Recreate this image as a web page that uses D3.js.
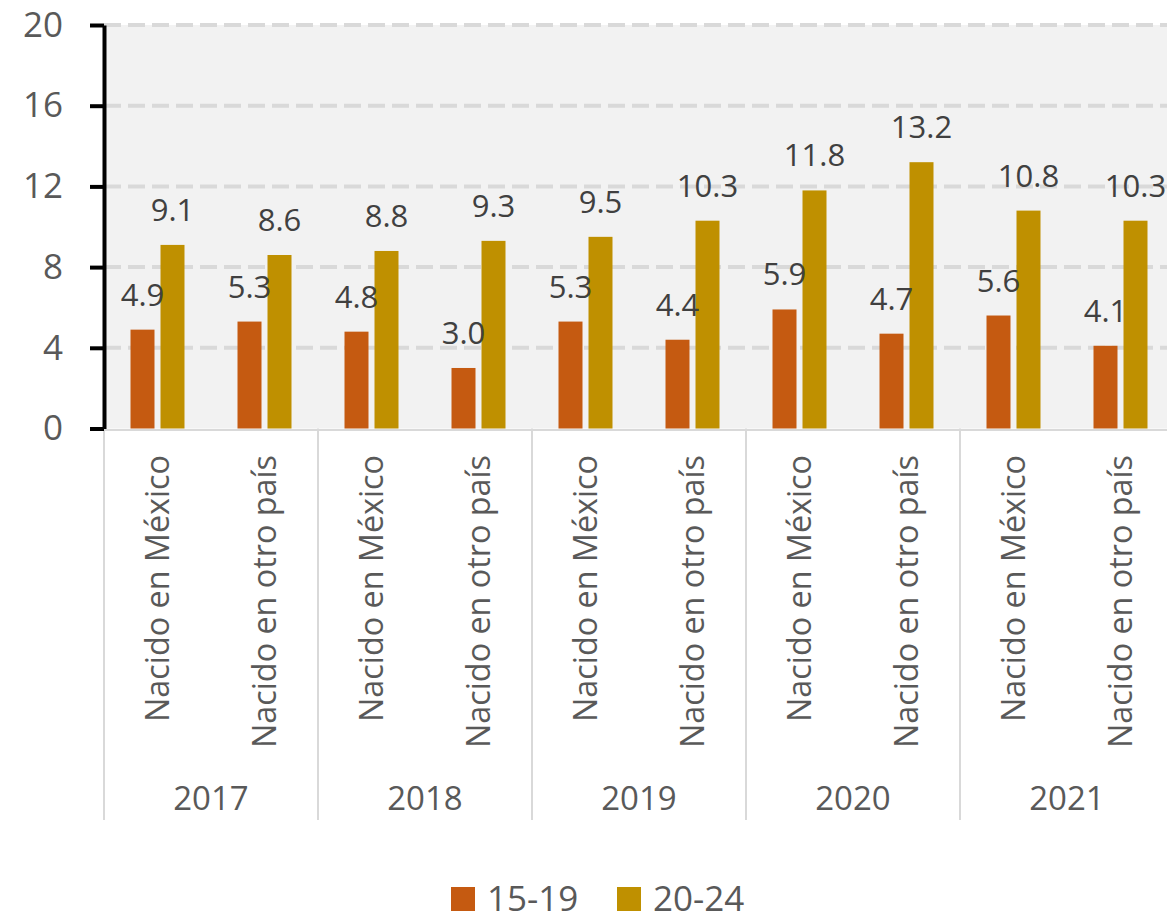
<!DOCTYPE html>
<html>
<head>
<meta charset="utf-8">
<script src="https://cdn.jsdelivr.net/npm/d3@7"></script>
<style>
  body { margin: 0; background: #fff; }
  svg { display: block; font-family: "Open Sans", sans-serif; }
</style>
</head>
<body>
<svg id="chart" width="1167" height="924"></svg>
<script>
// data
var years = ["2017", "2018", "2019", "2020", "2021"];
var origins = ["Nacido en México", "Nacido en otro país"];
var seriesNames = ["15-19", "20-24"];
var values1519 = [4.9, 5.3, 4.8, 3.0, 5.3, 4.4, 5.9, 4.7, 5.6, 4.1];
var values2024 = [9.1, 8.6, 8.8, 9.3, 9.5, 10.3, 11.8, 13.2, 10.8, 10.3];
var yTicks = [0, 4, 8, 12, 16, 20];
var colors = ["#c55a11", "#bf9000"];

var svg = d3.select("#chart");
var margin = {top: 25, left: 104};
var plotW = 1070, plotH = 403.5;

// one row per category (year x origin)
var cats = [];
years.forEach(function(yr) {
    origins.forEach(function(o) {
        cats.push({year: yr, origin: o, key: yr + "|" + o});
    });
});
cats.forEach(function(c, i) {
    c.vals = [values1519[i], values2024[i]];
});

var x = d3.scaleBand()
    .domain(cats.map(function(c) { return c.key; }))
    .range([margin.left, margin.left + plotW]);

var xs = d3.scaleBand()
    .domain(seriesNames)
    .range([-27, 27])
    .paddingInner(0.2);

var y = d3.scaleLinear()
    .domain([0, 20])
    .range([margin.top + plotH, margin.top]);

// plot background
svg.append("rect")
    .attr("x", margin.left)
    .attr("y", y(20))
    .attr("width", plotW)
    .attr("height", y(0) - y(20))
    .attr("fill", "#f2f2f2");

// grid lines
svg.append("g")
    .selectAll("line")
    .data(yTicks.filter(function(d) { return d > 0; }))
    .join("line")
    .attr("x1", margin.left)
    .attr("x2", margin.left + plotW)
    .attr("y1", function(d) { return y(d); })
    .attr("y2", function(d) { return y(d); })
    .attr("stroke", "#d9d9d9")
    .attr("stroke-width", 4)
    .attr("stroke-dasharray", "17,7");

// bars
var groups = svg.append("g")
    .selectAll("g")
    .data(cats)
    .join("g")
    .attr("transform", function(c) { return "translate(" + (x(c.key) + x.bandwidth() / 2) + ",0)"; });

groups.selectAll("rect")
    .data(function(c) { return c.vals.map(function(v, i) { return {s: seriesNames[i], v: v, i: i}; }); })
    .join("rect")
    .attr("x", function(d) { return xs(d.s); })
    .attr("width", xs.bandwidth())
    .attr("y", function(d) { return y(d.v); })
    .attr("height", function(d) { return y(0) - y(d.v); })
    .attr("fill", function(d) { return colors[d.i]; });

groups.selectAll("text")
    .data(function(c) { return c.vals.map(function(v, i) { return {s: seriesNames[i], v: v, i: i}; }); })
    .join("text")
    .attr("x", function(d) { return xs(d.s) + xs.bandwidth() / 2; })
    .attr("y", function(d) { return y(d.v) - 24; })
    .attr("text-anchor", "middle")
    .attr("font-size", 31)
    .attr("fill", "#404040")
    .text(function(d) { return d.v.toFixed(1); });

// bottom axis line + group separators
svg.append("line")
    .attr("x1", margin.left)
    .attr("x2", margin.left + plotW)
    .attr("y1", y(0) + 1.5)
    .attr("y2", y(0) + 1.5)
    .attr("stroke", "#d9d9d9")
    .attr("stroke-width", 2);

var sepX = years.map(function(yr) { return x(yr + "|" + origins[0]); });
sepX.push(margin.left + plotW);
svg.append("g")
    .selectAll("line")
    .data(sepX)
    .join("line")
    .attr("x1", function(d) { return d; })
    .attr("x2", function(d) { return d; })
    .attr("y1", y(0))
    .attr("y2", 820)
    .attr("stroke", "#d9d9d9")
    .attr("stroke-width", 2);

// rotated category labels
svg.append("g")
    .selectAll("text")
    .data(cats)
    .join("text")
    .attr("transform", function(c) {
        return "translate(" + (x(c.key) + x.bandwidth() / 2 + 11) + ",455) rotate(-90)";
    })
    .attr("text-anchor", "end")
    .attr("font-size", 32.3)
    .attr("fill", "#595959")
    .text(function(c) { return c.origin; });

// year labels
svg.append("g")
    .selectAll("text")
    .data(years)
    .join("text")
    .attr("x", function(yr) { return x(yr + "|" + origins[0]) + x.bandwidth(); })
    .attr("y", 810)
    .attr("text-anchor", "middle")
    .attr("font-size", 33)
    .attr("fill", "#595959")
    .text(function(yr) { return yr; });

// y axis
var yAxis = svg.append("g")
    .attr("transform", "translate(" + margin.left + ",0)")
    .call(d3.axisLeft(y).tickValues(yTicks).tickSize(14).tickPadding(27).tickSizeOuter(0));
yAxis.select(".domain").attr("stroke", "#000").attr("stroke-width", 4);
yAxis.selectAll(".tick line").attr("stroke", "#000").attr("stroke-width", 4);
yAxis.selectAll(".tick text")
    .attr("font-size", 35)
    .attr("font-family", "Open Sans, sans-serif")
    .attr("fill", "#595959");

// legend (nudged up a little so the text is not clipped by the page edge)
var legend = svg.append("g")
    .selectAll("g")
    .data(seriesNames)
    .join("g")
    .attr("transform", function(d, i) { return "translate(" + (451 + i * 166) + ",887)"; });
legend.append("rect")
    .attr("width", 24)
    .attr("height", 24)
    .attr("fill", function(d, i) { return colors[i]; });
legend.append("text")
    .attr("x", 36)
    .attr("y", 24)
    .attr("font-size", 35)
    .attr("fill", "#595959")
    .text(function(d) { return d; });
</script>
</body>
</html>
